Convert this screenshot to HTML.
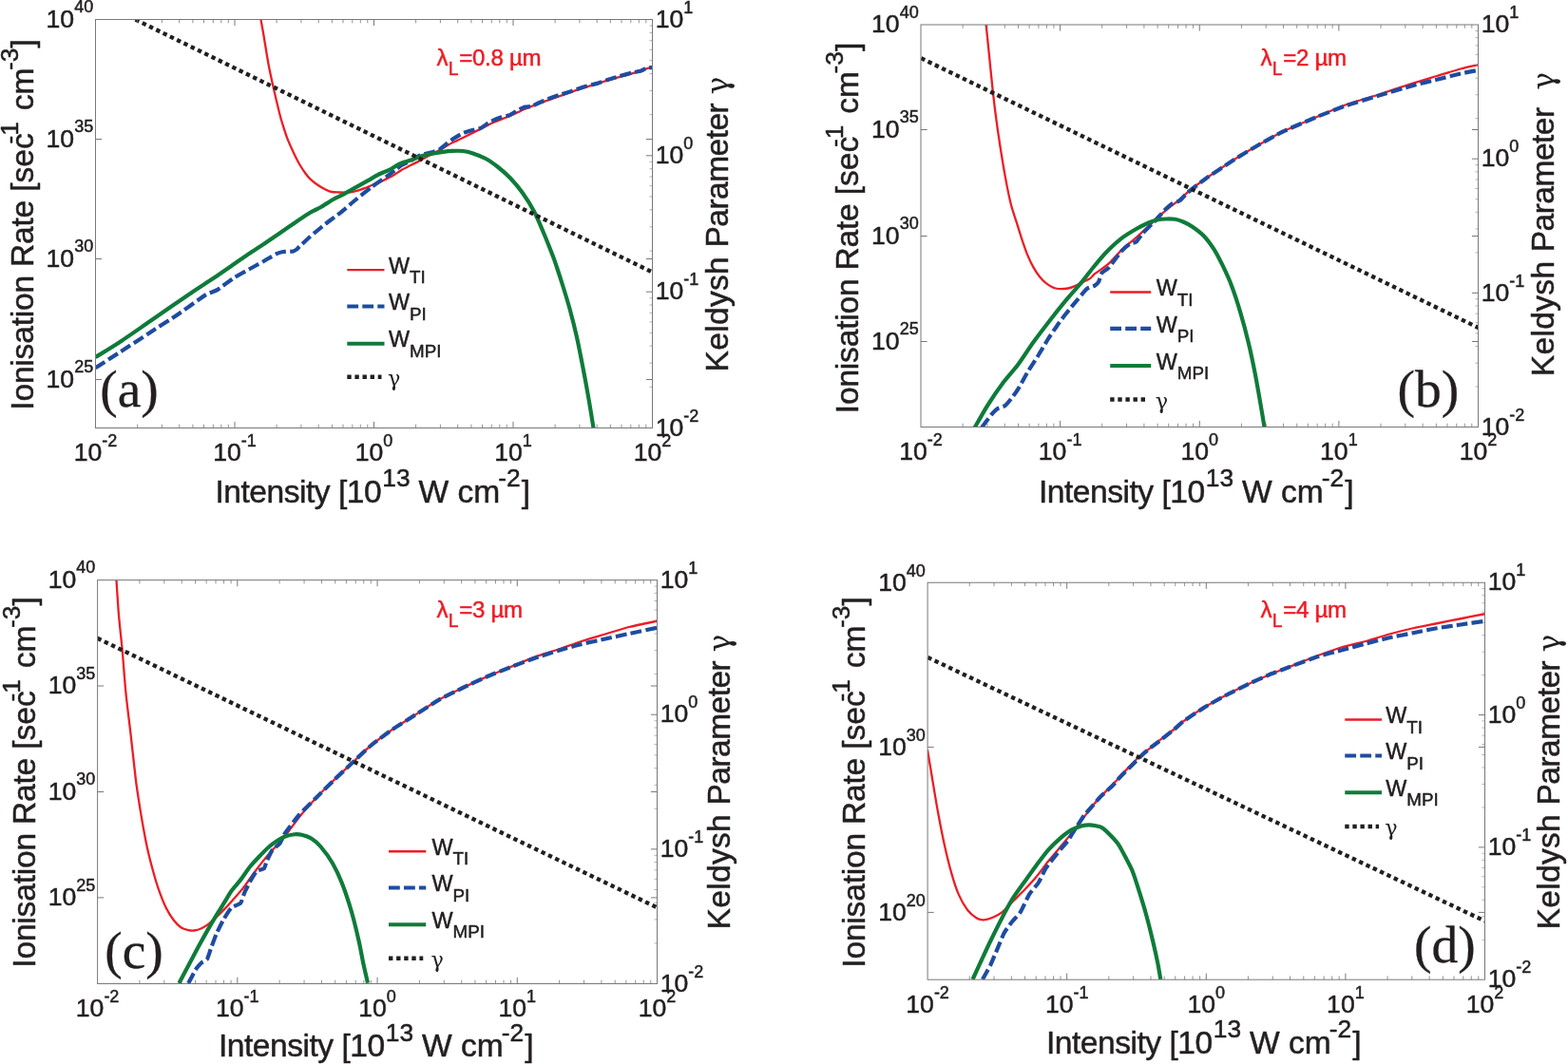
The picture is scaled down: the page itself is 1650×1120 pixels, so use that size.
<!DOCTYPE html>
<html lang="en">
<head>
<meta charset="utf-8">
<title>Ionisation rates and Keldysh parameter</title>
<style>
html,body{margin:0;padding:0;background:#fff;}
body{width:1650px;height:1120px;overflow:hidden;}
svg{display:block;}
text{white-space:pre;}
</style>
</head>
<body>
<svg width="1650" height="1120" viewBox="0 0 1650 1120">
<rect x="0" y="0" width="1650" height="1120" fill="#ffffff"/>
<g id="panel-a">
<clipPath id="clip_a"><rect x="100.5" y="20.5" width="586" height="430"/></clipPath>
<g clip-path="url(#clip_a)" fill="none" stroke-linejoin="round">
<path d="M274.5,20.5 C274.9,22.77 276.43,31.23 277.5,37.5 C278.57,43.77 281.17,60.33 282.5,67.5 C283.83,74.67 285.93,84.25 287.5,91.25 C289.07,98.25 292.97,114.67 294.3,120 C295.63,125.33 296.43,127.77 297.5,131.2 C298.57,134.63 300.81,141.83 302.3,145.7 C303.79,149.57 306.98,156.56 308.7,160.2 C310.42,163.84 313.48,170 315.2,173 C316.92,176 320.11,180.66 321.6,182.7 C323.09,184.74 324.69,186.7 326.4,188.3 C328.11,189.9 332.25,193.21 334.4,194.7 C336.55,196.19 340.57,198.53 342.5,199.5 C344.43,200.47 346.98,201.6 348.9,202 C350.82,202.4 354.54,202.42 356.9,202.5 C359.26,202.58 364.24,202.77 366.6,202.6 C368.96,202.43 372.24,201.83 374.6,201.2 C376.96,200.57 381.73,198.87 384.3,197.9 C386.87,196.93 391.34,194.97 393.9,193.9 C396.46,192.83 400.93,191.07 403.5,189.9 C406.07,188.73 410.63,186.59 413.2,185.1 C415.77,183.61 420.23,180.21 422.8,178.7 C425.37,177.19 429.71,175.2 432.5,173.8 C435.29,172.4 440.7,169.8 443.7,168.2 C446.7,166.6 452.43,163.19 455,161.8 C457.57,160.41 460.87,158.99 463,157.8 C465.13,156.61 468.64,154.19 471,152.9 C473.36,151.61 478.41,149.22 480.7,148.1 C482.99,146.98 485.05,146.06 488.2,144.5 C491.35,142.94 500.02,138.55 504.3,136.4 C508.58,134.25 516.02,130.32 520.3,128.4 C524.58,126.48 532.11,123.83 536.4,122 C540.69,120.17 548.21,116.53 552.5,114.7 C556.79,112.87 564.32,109.9 568.6,108.3 C572.88,106.7 580.32,104.21 584.6,102.7 C588.88,101.19 596.41,98.47 600.7,97 C604.99,95.53 612.52,93.09 616.8,91.7 C621.08,90.31 628.52,87.92 632.8,86.6 C637.08,85.28 644.61,83.04 648.9,81.8 C653.19,80.56 660.72,78.59 665,77.3 C669.28,76.01 678.11,73.01 681,72.1 C683.89,71.19 685.94,70.71 686.7,70.5" stroke="#ed1c24" stroke-width="2.3"/>
<path d="M100.5,387.3 C102.58,385.96 120.8,374.19 125.4,371.2 C130,368.21 150.64,354.69 155.7,351.4 C160.76,348.11 181.04,335.12 186.1,331.7 C191.16,328.28 212.86,312.62 216.4,310.4 C219.94,308.18 226.09,306.62 228.6,305.1 C231.11,303.58 243.72,294 246.5,292.2 C249.28,290.4 259.42,284.93 262,283.5 C264.58,282.07 275.08,276.37 277.5,275 C279.92,273.63 289.29,267.93 291,267.1 C292.71,266.27 296.58,265.21 298,265 C299.42,264.79 306.83,264.8 308,264.6 C309.17,264.4 311.4,263.03 312,262.6 C312.6,262.18 314,260.63 315.2,259.5 C316.4,258.37 324.12,250.98 326.4,249 C328.67,247.02 339.82,237.82 342.5,235.7 C345.18,233.58 355.93,225.74 358.6,223.6 C361.28,221.46 371.93,212.21 374.6,210 C377.28,207.79 388.02,199.11 390.7,197.1 C393.38,195.09 404.66,187.43 406.8,185.9 C408.94,184.37 415.07,179.71 416.4,178.7 C417.73,177.69 421.46,174.61 422.8,173.8 C424.14,172.99 430.89,169.87 432.5,169 C434.11,168.13 440.23,164.13 442.1,163.4 C443.98,162.67 453.26,160.73 455,160.2 C456.74,159.67 461.67,157.81 463,157 C464.33,156.19 469.83,151.41 471,150.5 C472.17,149.59 475.7,146.94 477,146.1 C478.3,145.26 485,141.14 486.6,140.4 C488.2,139.66 494.59,137.67 496.2,137.2 C497.81,136.73 504.29,135.53 505.9,134.8 C507.51,134.07 513.76,129.33 515.5,128.4 C517.24,127.47 525.06,124.2 526.8,123.6 C528.54,123 534.92,121.81 536.4,121.2 C537.88,120.59 543.16,117.02 544.5,116.3 C545.84,115.58 551.3,112.96 552.5,112.6 C553.7,112.24 557.69,112.36 558.9,112 C560.11,111.64 565.52,108.94 567,108.3 C568.48,107.66 574.87,104.97 576.6,104.3 C578.33,103.63 585.79,100.97 587.8,100.3 C589.81,99.62 598.56,96.92 600.7,96.2 C602.84,95.48 611.49,92.33 613.5,91.7 C615.51,91.08 623.46,89.06 624.8,88.7 C626.14,88.34 628.26,87.84 629.6,87.4 C630.94,86.96 639.02,84 640.9,83.4 C642.77,82.8 650.09,80.77 652.1,80.2 C654.11,79.63 663.12,77.07 665,76.6 C666.88,76.12 673.27,74.94 674.6,74.5 C675.93,74.06 679.99,71.57 681,71.3 C682.01,71.03 686.23,71.3 686.7,71.3" stroke="#1e4ca1" stroke-width="4.2" stroke-dasharray="11.8 4.2"/>
<path d="M100.5,376 C103.82,373.93 117.63,365.63 125.4,360.5 C133.17,355.37 148.68,344.47 158.8,337.5 C168.92,330.53 192.61,314.09 201.3,308.2 C209.99,302.31 217.97,297.35 224,293.3 C230.03,289.25 241.42,281.31 246.5,277.8 C251.58,274.29 257.97,269.77 262.1,267 C266.23,264.23 273.21,259.87 277.5,257 C281.79,254.13 289.93,248.5 294.3,245.5 C298.67,242.5 306.02,237.39 310.3,234.5 C314.58,231.61 322.75,226 326.4,223.8 C330.05,221.6 334.49,219.84 337.7,218 C340.91,216.16 347.29,211.81 350.5,210 C353.71,208.19 358.59,206.12 361.8,204.4 C365.01,202.68 371.17,199.03 374.6,197.1 C378.03,195.17 384.29,191.71 387.5,189.9 C390.71,188.09 395.7,184.99 398.7,183.5 C401.7,182.01 407.21,180.1 410,178.7 C412.79,177.3 416.81,174.29 419.6,173 C422.39,171.71 427.69,170.17 430.9,169 C434.11,167.83 440.49,165.16 443.7,164.2 C446.91,163.24 452,162.37 455,161.8 C458,161.23 463.41,160.29 466.2,159.9 C468.99,159.51 473.11,159.02 475.9,158.9 C478.69,158.78 484.29,158.69 487.1,159 C489.91,159.31 493.68,160.12 497,161.25 C500.32,162.38 508.33,165.5 512,167.5 C515.67,169.5 521.17,173.58 524.5,176.25 C527.83,178.92 533.67,184 537,187.5 C540.33,191 546.17,197.83 549.5,202.5 C552.83,207.17 559,216.83 562,222.5 C565,228.17 569.33,238.67 572,245 C574.67,251.33 580.2,265.33 582,270 C583.8,274.67 584.17,276 585.5,280 C586.83,284 590.13,294 592,300 C593.87,306 597.5,317.67 599.5,325 C601.5,332.33 605,346 607,355 C609,364 612.83,383.83 614.5,392.5 C616.17,401.17 618.17,412.27 619.5,420 C620.83,427.73 623.83,446.43 624.5,450.5" stroke="#0f7b3a" stroke-width="4.2"/>
<path d="M142.5,20.6 L686.8,286.7" stroke="#231f20" stroke-width="4.3" stroke-dasharray="4.4 3.7"/>
</g>
<rect x="100.5" y="20.5" width="586" height="430" fill="none" stroke="#787878" stroke-width="1"/>
<path d="M247,450.5 v-6.6 M247,20.5 v6.6 M393.5,450.5 v-6.6 M393.5,20.5 v6.6 M540,450.5 v-6.6 M540,20.5 v6.6 M100.5,146.5 h6.6 M686.5,146.5 h-6.6 M100.5,272.5 h6.6 M686.5,272.5 h-6.6 M100.5,399.5 h6.6 M686.5,399.5 h-6.6 M686.5,163.83 h-6.6 M686.5,307.17 h-6.6" stroke="#787878" stroke-width="1" fill="none"/>
<path d="M144.6,450.5 v-3.8 M144.6,20.5 v3.8 M170.4,450.5 v-3.8 M170.4,20.5 v3.8 M188.7,450.5 v-3.8 M188.7,20.5 v3.8 M202.9,450.5 v-3.8 M202.9,20.5 v3.8 M214.5,450.5 v-3.8 M214.5,20.5 v3.8 M224.31,450.5 v-3.8 M224.31,20.5 v3.8 M232.8,450.5 v-3.8 M232.8,20.5 v3.8 M240.3,450.5 v-3.8 M240.3,20.5 v3.8 M291.1,450.5 v-3.8 M291.1,20.5 v3.8 M316.9,450.5 v-3.8 M316.9,20.5 v3.8 M335.2,450.5 v-3.8 M335.2,20.5 v3.8 M349.4,450.5 v-3.8 M349.4,20.5 v3.8 M361,450.5 v-3.8 M361,20.5 v3.8 M370.81,450.5 v-3.8 M370.81,20.5 v3.8 M379.3,450.5 v-3.8 M379.3,20.5 v3.8 M386.8,450.5 v-3.8 M386.8,20.5 v3.8 M437.6,450.5 v-3.8 M437.6,20.5 v3.8 M463.4,450.5 v-3.8 M463.4,20.5 v3.8 M481.7,450.5 v-3.8 M481.7,20.5 v3.8 M495.9,450.5 v-3.8 M495.9,20.5 v3.8 M507.5,450.5 v-3.8 M507.5,20.5 v3.8 M517.31,450.5 v-3.8 M517.31,20.5 v3.8 M525.8,450.5 v-3.8 M525.8,20.5 v3.8 M533.3,450.5 v-3.8 M533.3,20.5 v3.8 M584.1,450.5 v-3.8 M584.1,20.5 v3.8 M609.9,450.5 v-3.8 M609.9,20.5 v3.8 M628.2,450.5 v-3.8 M628.2,20.5 v3.8 M642.4,450.5 v-3.8 M642.4,20.5 v3.8 M654,450.5 v-3.8 M654,20.5 v3.8 M663.81,450.5 v-3.8 M663.81,20.5 v3.8 M672.3,450.5 v-3.8 M672.3,20.5 v3.8 M679.8,450.5 v-3.8 M679.8,20.5 v3.8" stroke="#787878" stroke-width="0.9" fill="none" opacity="0.9"/>
<path d="M686.5,120.69 h-3 M686.5,95.45 h-3 M686.5,77.54 h-3 M686.5,63.65 h-3 M686.5,52.3 h-3 M686.5,42.7 h-3 M686.5,34.39 h-3 M686.5,27.06 h-3 M686.5,264.02 h-3 M686.5,238.78 h-3 M686.5,220.87 h-3 M686.5,206.98 h-3 M686.5,195.63 h-3 M686.5,186.04 h-3 M686.5,177.72 h-3 M686.5,170.39 h-3 M686.5,407.35 h-3 M686.5,382.11 h-3 M686.5,364.2 h-3 M686.5,350.31 h-3 M686.5,338.96 h-3 M686.5,329.37 h-3 M686.5,321.06 h-3 M686.5,313.73 h-3" stroke="#787878" stroke-width="0.9" fill="none" opacity="0.65"/>
<g fill="none">
<path d="M365.3,284.2 H404.5" stroke="#ed1c24" stroke-width="2.3"/>
<path d="M365.3,322.5 H404.5" stroke="#1e4ca1" stroke-width="4.2" stroke-dasharray="11.8 4.2"/>
<path d="M365.3,361.75 H404.5" stroke="#0f7b3a" stroke-width="4.2"/>
<path d="M365.3,396.75 H401.5" stroke="#231f20" stroke-width="4.3" stroke-dasharray="4.4 3.7"/>
</g>
<g font-family="'Liberation Sans', Arial, Helvetica, sans-serif" fill="#231f20" stroke="#231f20" stroke-width="0.5" stroke-linejoin="round">
<text x="98.2" y="28.9" text-anchor="end" font-size="26.6">10<tspan dx="0" dy="-15.8" font-size="18">40</tspan></text>
<text x="98.2" y="154.9" text-anchor="end" font-size="26.6">10<tspan dx="0" dy="-15.8" font-size="18">35</tspan></text>
<text x="98.2" y="280.9" text-anchor="end" font-size="26.6">10<tspan dx="0" dy="-15.8" font-size="18">30</tspan></text>
<text x="98.2" y="407.9" text-anchor="end" font-size="26.6">10<tspan dx="0" dy="-15.8" font-size="18">25</tspan></text>
<text x="689.7" y="28.7" text-anchor="start" font-size="26.6">10<tspan dx="0" dy="-15" font-size="18">1</tspan></text>
<text x="689.7" y="172.03" text-anchor="start" font-size="26.6">10<tspan dx="0" dy="-15" font-size="18">0</tspan></text>
<text x="689.7" y="315.37" text-anchor="start" font-size="26.6">10<tspan dx="0" dy="-15" font-size="18">-1</tspan></text>
<text x="689.7" y="458.7" text-anchor="start" font-size="26.6">10<tspan dx="0" dy="-15" font-size="18">-2</tspan></text>
<text x="100.5" y="485.4" text-anchor="middle" font-size="26.6">10<tspan dx="0" dy="-15.6" font-size="18">-2</tspan></text>
<text x="247" y="485.4" text-anchor="middle" font-size="26.6">10<tspan dx="0" dy="-15.6" font-size="18">-1</tspan></text>
<text x="393.5" y="485.4" text-anchor="middle" font-size="26.6">10<tspan dx="0" dy="-15.6" font-size="18">0</tspan></text>
<text x="540" y="485.4" text-anchor="middle" font-size="26.6">10<tspan dx="0" dy="-15.6" font-size="18">1</tspan></text>
<text x="686.5" y="485.4" text-anchor="middle" font-size="26.6">10<tspan dx="0" dy="-15.6" font-size="18">2</tspan></text>
<text x="392.3" y="528.5" text-anchor="middle" font-size="33.6"><tspan letter-spacing="-0.5">Intensity [10</tspan><tspan dx="1.3" dy="-16.4" font-size="26.3">13</tspan><tspan dx="-0.5" dy="16.4"> W cm</tspan><tspan dx="-1.9" dy="-16.4" font-size="26.3">-2</tspan><tspan dx="1" dy="16.4">]</tspan></text>
<text transform="translate(35,236.4) rotate(-90)" text-anchor="middle" font-size="33.6"><tspan letter-spacing="-0.22">Ionisation Rate </tspan>[sec<tspan dx="-11.2" dy="-16.4" font-size="26.3">-1</tspan><tspan dx="2.4" dy="16.4"> cm</tspan><tspan dx="-2.3" dy="-16.4" font-size="26.3">-3</tspan><tspan dy="16.4">]</tspan></text>
<text transform="translate(765.5,236) rotate(-90)" text-anchor="middle" font-size="33.6"><tspan letter-spacing="0.3">Keldysh</tspan> <tspan letter-spacing="-0.55">Parameter</tspan> <tspan font-family="'DejaVu Serif', 'Liberation Serif', serif" font-size="31.6" stroke-width="0">γ</tspan></text>
<text x="409" y="287.8" font-size="23.4">W<tspan dy="10.5" font-size="18.8">TI</tspan></text>
<text x="409" y="326.1" font-size="23.4">W<tspan dy="10.5" font-size="18.8">PI</tspan></text>
<text x="409" y="365.35" font-size="23.4">W<tspan dy="10.5" font-size="18.8">MPI</tspan></text>
<text x="408" y="406.05" font-size="22.4" font-family="'DejaVu Serif', 'Liberation Serif', serif" stroke-width="0">γ</text>
<text x="459.5" y="68.75" fill="#ed1c24" stroke="#ed1c24" font-size="24.1" letter-spacing="-0.3">λ<tspan dx="0.5" dy="10.2" font-size="19.3">L</tspan><tspan dx="1" dy="-10.2">=0.8 µm</tspan></text>
<text x="105.2" y="427.5" font-size="55.5" font-family="'Liberation Serif', 'Times New Roman', Times, serif" stroke-width="0.3">(a)</text>
</g>
</g>
<g id="panel-b">
<clipPath id="clip_b"><rect x="969" y="26" width="586.5" height="423.5"/></clipPath>
<g clip-path="url(#clip_b)" fill="none" stroke-linejoin="round">
<path d="M1037.6,25.75 C1038,29.62 1039.73,46.29 1040.6,54.8 C1041.47,63.31 1043.17,80.93 1044.1,89.6 C1045.03,98.27 1046.52,111.44 1047.6,119.8 C1048.68,128.16 1050.81,143.33 1052.2,152.3 C1053.59,161.27 1056.45,178.74 1058,187.1 C1059.55,195.46 1062.25,208.8 1063.8,215 C1065.35,221.2 1068.05,228.65 1069.6,233.6 C1071.15,238.55 1073.85,247.46 1075.4,252.1 C1076.95,256.74 1079.57,264.47 1081.2,268.4 C1082.83,272.33 1085.87,278.52 1087.6,281.6 C1089.33,284.68 1092.44,289.3 1094.2,291.5 C1095.96,293.7 1098.6,296.5 1100.8,298.1 C1103,299.7 1107.61,302.78 1110.7,303.5 C1113.79,304.22 1121.13,303.89 1124,303.5 C1126.87,303.11 1130,301.55 1132.2,300.6 C1134.4,299.65 1138.51,297.4 1140.5,296.4 C1142.49,295.4 1145.57,294.19 1147.1,293.1 C1148.63,292.01 1150.24,289.63 1152,288.2 C1153.76,286.77 1158.1,284.05 1160.3,282.4 C1162.5,280.75 1165.93,278.28 1168.5,275.8 C1171.07,273.32 1175.99,267.23 1179.6,263.8 C1183.21,260.37 1191.65,253.59 1195.6,250.1 C1199.55,246.61 1205.25,241.24 1209.2,237.6 C1213.15,233.96 1220.95,226.45 1225.2,222.8 C1229.45,219.15 1237.46,213.24 1241.1,210.2 C1244.74,207.16 1248.71,203.03 1252.5,200 C1256.29,196.97 1263.23,191.83 1269.5,187.5 C1275.77,183.17 1292.17,172.17 1299.5,167.5 C1306.83,162.83 1317.83,156.33 1324.5,152.5 C1331.17,148.67 1341.17,142.75 1349.5,138.75 C1357.83,134.75 1378,126.33 1387,122.5 C1396,118.67 1408.67,113 1417,110 C1425.33,107 1440.17,103 1449.5,100 C1458.83,97 1478.67,90.17 1487,87.5 C1495.33,84.83 1505.33,82 1512,80 C1518.67,78 1531.17,74.07 1537,72.5 C1542.83,70.93 1553.25,68.82 1555.75,68.25" stroke="#ed1c24" stroke-width="2.3"/>
<path d="M1033.1,450 C1033.92,448.9 1041.62,438.45 1043,436.8 C1044.38,435.15 1048.36,431.02 1049.6,430.2 C1050.84,429.38 1056.52,428 1057.9,426.9 C1059.28,425.8 1064.96,418.65 1066.2,417 C1067.44,415.35 1071.57,409.17 1072.8,407.1 C1074.03,405.03 1079.35,394.96 1081,392.2 C1082.65,389.44 1090.81,376.89 1092.6,374 C1094.39,371.11 1100.85,360.11 1102.5,357.5 C1104.15,354.89 1110.75,345.03 1112.4,342.7 C1114.05,340.37 1120.51,331.77 1122.3,329.5 C1124.09,327.23 1132.11,317.53 1133.9,315.4 C1135.69,313.27 1142.29,305.13 1143.8,303.9 C1145.31,302.67 1150.97,301.23 1152,300.6 C1153.03,299.98 1155.58,297.51 1156.2,296.4 C1156.83,295.29 1158.61,288.53 1159.5,287.3 C1160.39,286.07 1165.23,283.47 1166.9,281.6 C1168.58,279.73 1177.78,266.96 1179.6,264.9 C1181.42,262.84 1187.37,257.75 1188.7,256.9 C1190.03,256.05 1194.46,255.64 1195.6,254.7 C1196.74,253.76 1200.88,247.31 1202.4,245.6 C1203.92,243.89 1211.9,236.2 1213.8,234.2 C1215.7,232.2 1223.49,223.31 1225.2,221.6 C1226.91,219.89 1232.97,214.55 1234.3,213.7 C1235.62,212.85 1239.77,212.35 1241.1,211.4 C1242.42,210.45 1247.83,204.29 1250.2,202.3 C1252.57,200.31 1265.39,190.4 1269.5,187.5 C1273.61,184.6 1294.92,170.42 1299.5,167.5 C1304.08,164.58 1320.33,154.9 1324.5,152.5 C1328.67,150.1 1344.29,141.25 1349.5,138.75 C1354.71,136.25 1381.38,124.81 1387,122.5 C1392.62,120.19 1411.79,112.79 1417,111 C1422.21,109.21 1443.67,102.75 1449.5,101 C1455.33,99.25 1481.79,91.44 1487,90 C1492.21,88.56 1507.83,84.79 1512,83.75 C1516.17,82.71 1533.35,78.33 1537,77.5 C1540.65,76.67 1554.19,74.06 1555.75,73.75" stroke="#1e4ca1" stroke-width="4.2" stroke-dasharray="11.8 4.2"/>
<path d="M1025.7,450 C1027.57,446.8 1035.63,432.39 1039.7,426 C1043.77,419.61 1052.01,407.7 1056.2,402.1 C1060.39,396.5 1066.91,389.61 1071.1,384 C1075.29,378.39 1082.97,366.4 1087.6,360 C1092.23,353.6 1101.17,341.95 1105.8,336 C1110.43,330.05 1117.9,320.68 1122.3,315.4 C1126.7,310.12 1135.11,300.85 1138.8,296.4 C1142.49,291.95 1146.68,286.05 1150,282 C1153.32,277.95 1159.75,270.09 1163.7,266 C1167.65,261.91 1175.35,254.63 1179.6,251.3 C1183.85,247.97 1191.65,243.28 1195.6,241 C1199.55,238.72 1206.17,235.51 1209.2,234.2 C1212.23,232.89 1215.87,231.69 1218.3,231.2 C1220.73,230.71 1224.96,230.55 1227.4,230.5 C1229.84,230.45 1234.16,230.37 1236.6,230.8 C1239.04,231.23 1243.27,232.65 1245.7,233.7 C1248.13,234.75 1252.07,236.82 1254.8,238.7 C1257.53,240.58 1263.16,244.61 1266.2,247.8 C1269.24,250.99 1274.87,258.35 1277.6,262.6 C1280.33,266.85 1284.27,274.69 1286.7,279.7 C1289.13,284.71 1293.37,293.81 1295.8,300.2 C1298.23,306.59 1302.47,319.4 1304.9,327.6 C1307.33,335.8 1311.88,352.9 1314,361.7 C1316.12,370.5 1319.13,385.09 1320.8,393.6 C1322.47,402.11 1325.19,417.98 1326.5,425.5 C1327.81,433.02 1330.05,446.73 1330.6,450" stroke="#0f7b3a" stroke-width="4.2"/>
<path d="M969.25,61.25 L1555.75,345" stroke="#231f20" stroke-width="4.3" stroke-dasharray="4.4 3.7"/>
</g>
<rect x="969" y="26" width="586.5" height="423.5" fill="none" stroke="#787878" stroke-width="1"/>
<path d="M1115.62,449.5 v-6.6 M1115.62,26 v6.6 M1262.25,449.5 v-6.6 M1262.25,26 v6.6 M1408.88,449.5 v-6.6 M1408.88,26 v6.6 M969,136.5 h6.6 M1555.5,136.5 h-6.6 M969,248.5 h6.6 M1555.5,248.5 h-6.6 M969,359.5 h6.6 M1555.5,359.5 h-6.6 M1555.5,167.17 h-6.6 M1555.5,308.33 h-6.6" stroke="#787878" stroke-width="1" fill="none"/>
<path d="M1013.14,449.5 v-3.8 M1013.14,26 v3.8 M1038.96,449.5 v-3.8 M1038.96,26 v3.8 M1057.28,449.5 v-3.8 M1057.28,26 v3.8 M1071.49,449.5 v-3.8 M1071.49,26 v3.8 M1083.1,449.5 v-3.8 M1083.1,26 v3.8 M1092.91,449.5 v-3.8 M1092.91,26 v3.8 M1101.42,449.5 v-3.8 M1101.42,26 v3.8 M1108.92,449.5 v-3.8 M1108.92,26 v3.8 M1159.76,449.5 v-3.8 M1159.76,26 v3.8 M1185.58,449.5 v-3.8 M1185.58,26 v3.8 M1203.9,449.5 v-3.8 M1203.9,26 v3.8 M1218.11,449.5 v-3.8 M1218.11,26 v3.8 M1229.72,449.5 v-3.8 M1229.72,26 v3.8 M1239.54,449.5 v-3.8 M1239.54,26 v3.8 M1248.04,449.5 v-3.8 M1248.04,26 v3.8 M1255.54,449.5 v-3.8 M1255.54,26 v3.8 M1306.39,449.5 v-3.8 M1306.39,26 v3.8 M1332.21,449.5 v-3.8 M1332.21,26 v3.8 M1350.53,449.5 v-3.8 M1350.53,26 v3.8 M1364.74,449.5 v-3.8 M1364.74,26 v3.8 M1376.35,449.5 v-3.8 M1376.35,26 v3.8 M1386.16,449.5 v-3.8 M1386.16,26 v3.8 M1394.67,449.5 v-3.8 M1394.67,26 v3.8 M1402.17,449.5 v-3.8 M1402.17,26 v3.8 M1453.01,449.5 v-3.8 M1453.01,26 v3.8 M1478.83,449.5 v-3.8 M1478.83,26 v3.8 M1497.15,449.5 v-3.8 M1497.15,26 v3.8 M1511.36,449.5 v-3.8 M1511.36,26 v3.8 M1522.97,449.5 v-3.8 M1522.97,26 v3.8 M1532.79,449.5 v-3.8 M1532.79,26 v3.8 M1541.29,449.5 v-3.8 M1541.29,26 v3.8 M1548.79,449.5 v-3.8 M1548.79,26 v3.8" stroke="#787878" stroke-width="0.9" fill="none" opacity="0.9"/>
<path d="M1555.5,124.67 h-3 M1555.5,99.81 h-3 M1555.5,82.18 h-3 M1555.5,68.5 h-3 M1555.5,57.32 h-3 M1555.5,47.87 h-3 M1555.5,39.68 h-3 M1555.5,32.46 h-3 M1555.5,265.84 h-3 M1555.5,240.98 h-3 M1555.5,223.34 h-3 M1555.5,209.66 h-3 M1555.5,198.48 h-3 M1555.5,189.03 h-3 M1555.5,180.85 h-3 M1555.5,173.63 h-3 M1555.5,407 h-3 M1555.5,382.15 h-3 M1555.5,364.51 h-3 M1555.5,350.83 h-3 M1555.5,339.65 h-3 M1555.5,330.2 h-3 M1555.5,322.01 h-3 M1555.5,314.79 h-3" stroke="#787878" stroke-width="0.9" fill="none" opacity="0.65"/>
<g fill="none">
<path d="M1168.2,307.5 H1211.2" stroke="#ed1c24" stroke-width="2.3"/>
<path d="M1168.2,345.9 H1211.2" stroke="#1e4ca1" stroke-width="4.2" stroke-dasharray="11.8 4.2"/>
<path d="M1168.2,385 H1211.2" stroke="#0f7b3a" stroke-width="4.2"/>
<path d="M1168.2,420.5 H1208.2" stroke="#231f20" stroke-width="4.3" stroke-dasharray="4.4 3.7"/>
</g>
<g font-family="'Liberation Sans', Arial, Helvetica, sans-serif" fill="#231f20" stroke="#231f20" stroke-width="0.5" stroke-linejoin="round">
<text x="966.7" y="34.4" text-anchor="end" font-size="26.6">10<tspan dx="0" dy="-15.8" font-size="18">40</tspan></text>
<text x="966.7" y="144.9" text-anchor="end" font-size="26.6">10<tspan dx="0" dy="-15.8" font-size="18">35</tspan></text>
<text x="966.7" y="256.9" text-anchor="end" font-size="26.6">10<tspan dx="0" dy="-15.8" font-size="18">30</tspan></text>
<text x="966.7" y="367.9" text-anchor="end" font-size="26.6">10<tspan dx="0" dy="-15.8" font-size="18">25</tspan></text>
<text x="1558.7" y="34.2" text-anchor="start" font-size="26.6">10<tspan dx="0" dy="-15" font-size="18">1</tspan></text>
<text x="1558.7" y="175.37" text-anchor="start" font-size="26.6">10<tspan dx="0" dy="-15" font-size="18">0</tspan></text>
<text x="1558.7" y="316.53" text-anchor="start" font-size="26.6">10<tspan dx="0" dy="-15" font-size="18">-1</tspan></text>
<text x="1558.7" y="457.7" text-anchor="start" font-size="26.6">10<tspan dx="0" dy="-15" font-size="18">-2</tspan></text>
<text x="969" y="484.4" text-anchor="middle" font-size="26.6">10<tspan dx="0" dy="-15.6" font-size="18">-2</tspan></text>
<text x="1115.62" y="484.4" text-anchor="middle" font-size="26.6">10<tspan dx="0" dy="-15.6" font-size="18">-1</tspan></text>
<text x="1262.25" y="484.4" text-anchor="middle" font-size="26.6">10<tspan dx="0" dy="-15.6" font-size="18">0</tspan></text>
<text x="1408.88" y="484.4" text-anchor="middle" font-size="26.6">10<tspan dx="0" dy="-15.6" font-size="18">1</tspan></text>
<text x="1555.5" y="484.4" text-anchor="middle" font-size="26.6">10<tspan dx="0" dy="-15.6" font-size="18">2</tspan></text>
<text x="1258.8" y="528.5" text-anchor="middle" font-size="33.6"><tspan letter-spacing="-0.5">Intensity [10</tspan><tspan dx="1.3" dy="-16.4" font-size="26.3">13</tspan><tspan dx="-0.5" dy="16.4"> W cm</tspan><tspan dx="-1.9" dy="-16.4" font-size="26.3">-2</tspan><tspan dx="1" dy="16.4">]</tspan></text>
<text transform="translate(903,239.9) rotate(-90)" text-anchor="middle" font-size="33.6"><tspan letter-spacing="-0.22">Ionisation Rate </tspan>[sec<tspan dx="-11.2" dy="-16.4" font-size="26.3">-1</tspan><tspan dx="2.4" dy="16.4"> cm</tspan><tspan dx="-2.3" dy="-16.4" font-size="26.3">-3</tspan><tspan dy="16.4">]</tspan></text>
<text transform="translate(1635,236) rotate(-90)" text-anchor="middle" font-size="33.6"><tspan letter-spacing="0.3">Keldysh</tspan> <tspan letter-spacing="-0.55">Parameter</tspan>  <tspan font-family="'DejaVu Serif', 'Liberation Serif', serif" font-size="31.6" stroke-width="0">γ</tspan></text>
<text x="1216.7" y="311.1" font-size="23.4">W<tspan dy="10.5" font-size="18.8">TI</tspan></text>
<text x="1216.7" y="349.5" font-size="23.4">W<tspan dy="10.5" font-size="18.8">PI</tspan></text>
<text x="1216.7" y="388.6" font-size="23.4">W<tspan dy="10.5" font-size="18.8">MPI</tspan></text>
<text x="1215.7" y="429.8" font-size="22.4" font-family="'DejaVu Serif', 'Liberation Serif', serif" stroke-width="0">γ</text>
<text x="1326.5" y="68.75" fill="#ed1c24" stroke="#ed1c24" font-size="24.1" letter-spacing="-0.3">λ<tspan dx="0.5" dy="10.2" font-size="19.3">L</tspan><tspan dx="1" dy="-10.2">=2 µm</tspan></text>
<text x="1470.5" y="427.5" font-size="55.5" font-family="'Liberation Serif', 'Times New Roman', Times, serif" stroke-width="0.3">(b)</text>
</g>
</g>
<g id="panel-c">
<clipPath id="clip_c"><rect x="102.6" y="610.6" width="588.9" height="424.9"/></clipPath>
<g clip-path="url(#clip_c)" fill="none" stroke-linejoin="round">
<path d="M122.5,610.75 C122.83,615.65 124.17,637.6 125,647.5 C125.83,657.4 127.75,674 128.75,685 C129.75,696 131.33,718.33 132.5,730 C133.67,741.67 136.13,760.5 137.5,772.5 C138.87,784.5 141.64,810.52 142.8,820 C143.96,829.48 145.23,837.31 146.2,843.6 C147.17,849.89 148.93,860.65 150.1,867.2 C151.27,873.75 153.56,886.15 155,892.7 C156.44,899.25 159.33,910.54 160.9,916.3 C162.47,922.06 164.96,930.66 166.8,935.9 C168.64,941.14 172.61,951.28 174.7,955.6 C176.79,959.92 180.41,965.55 182.5,968.3 C184.59,971.05 188.31,974.76 190.4,976.2 C192.49,977.64 196.37,978.66 198.2,979.1 C200.03,979.54 202.26,979.75 204.1,979.5 C205.94,979.25 209.91,978.16 212,977.2 C214.09,976.24 217.71,973.87 219.8,972.3 C221.89,970.73 225.34,967.63 227.7,965.4 C230.06,963.17 234.89,958.35 237.5,955.6 C240.11,952.85 244.67,947.81 247.3,944.8 C249.93,941.79 254.57,936.41 257.2,933 C259.83,929.59 264.39,922.75 267,919.2 C269.61,915.65 274.19,909.67 276.8,906.4 C279.41,903.13 283.97,897.58 286.6,894.7 C289.23,891.82 292.71,889.43 296.5,884.8 C300.29,880.17 310.2,865.97 315,860 C319.8,854.03 327.83,845 332.5,840 C337.17,835 344.67,827.67 350,822.5 C355.33,817.33 367.17,806.25 372.5,801.25 C377.83,796.25 384.73,789.37 390,785 C395.27,780.63 405.73,772.83 412,768.5 C418.27,764.17 430.33,756.75 437,752.5 C443.67,748.25 455.33,740.4 462,736.6 C468.67,732.8 480.33,727.21 487,724 C493.67,720.79 505.33,715.41 512,712.5 C518.67,709.59 530.33,704.96 537,702.2 C543.67,699.44 555.33,694.26 562,691.8 C568.67,689.34 580.33,685.99 587,683.75 C593.67,681.51 605.33,677.17 612,675 C618.67,672.83 630.33,669.5 637,667.5 C643.67,665.5 654.73,661.83 662,660 C669.27,658.17 687.57,654.58 691.5,653.75" stroke="#ed1c24" stroke-width="2.3"/>
<path d="M198.2,1035.1 C198.86,1033.88 204.95,1022.2 206.1,1020.4 C207.25,1018.6 211.02,1014.4 212,1013.5 C212.98,1012.6 217.08,1010.83 217.9,1009.6 C218.72,1008.38 220.98,1001.01 221.8,998.8 C222.62,996.59 226.55,985.73 227.7,983.1 C228.85,980.48 234.29,969.59 235.6,967.3 C236.91,965.01 241.93,956.99 243.4,955.6 C244.87,954.21 252.05,951.92 253.2,950.6 C254.35,949.28 256.38,941.68 257.2,939.8 C258.02,937.92 262.04,929.88 263.1,928 C264.16,926.12 268.67,918.34 269.9,917.2 C271.12,916.06 276.9,915.2 277.8,914.3 C278.7,913.4 279.97,908.03 280.7,906.4 C281.43,904.77 285.45,896.25 286.6,894.7 C287.75,893.15 293.38,889.27 294.5,887.8 C295.62,886.32 298.29,879.52 300,877 C301.71,874.48 312.29,860.58 315,857.5 C317.71,854.42 329.58,842.92 332.5,840 C335.42,837.08 346.67,825.73 350,822.5 C353.33,819.27 369.17,804.38 372.5,801.25 C375.83,798.12 386.71,787.73 390,785 C393.29,782.27 408.08,771.21 412,768.5 C415.92,765.79 432.83,755.16 437,752.5 C441.17,749.84 457.83,738.98 462,736.6 C466.17,734.23 482.83,726.01 487,724 C491.17,721.99 507.83,714.3 512,712.5 C516.17,710.7 532.83,704.02 537,702.4 C541.17,700.77 557.83,694.45 562,693 C566.17,691.55 582.83,686.25 587,685 C591.17,683.75 607.83,679.04 612,678 C616.17,676.96 632.83,673.42 637,672.5 C641.17,671.58 657.46,667.98 662,667 C666.54,666.02 689.04,661.27 691.5,660.75" stroke="#1e4ca1" stroke-width="4.2" stroke-dasharray="11.8 4.2"/>
<path d="M188.4,1035.1 C189.71,1032.62 195.57,1021.47 198.2,1016.5 C200.83,1011.53 205.47,1002.65 208.1,997.8 C210.73,992.95 215.29,984.69 217.9,980.1 C220.51,975.51 225.09,967.72 227.7,963.4 C230.31,959.08 235.41,951.1 237.5,947.7 C239.59,944.3 241.31,940.78 243.4,937.9 C245.49,935.02 250.57,929.51 253.2,926.1 C255.83,922.69 260.47,915.58 263.1,912.3 C265.73,909.02 270.29,904.25 272.9,901.5 C275.51,898.75 280.34,893.79 282.7,891.7 C285.06,889.61 288.29,887.29 290.6,885.8 C292.91,884.31 297.41,881.51 300,880.5 C302.59,879.49 307.67,878.48 310,878.25 C312.33,878.02 315.17,878.18 317.5,878.75 C319.83,879.32 324.83,880.83 327.5,882.5 C330.17,884.17 334.5,887.75 337.5,891.25 C340.5,894.75 347,903.58 350,908.75 C353,913.92 357.33,923.17 360,930 C362.67,936.83 367.67,952 370,960 C372.33,968 375.83,982.67 377.5,990 C379.17,997.33 381.23,1009.03 382.5,1015 C383.77,1020.97 386.4,1032.12 387,1034.75" stroke="#0f7b3a" stroke-width="4.2"/>
<path d="M102.5,671.8 L691.5,955.3" stroke="#231f20" stroke-width="4.3" stroke-dasharray="4.4 3.7"/>
</g>
<rect x="102.6" y="610.6" width="588.9" height="424.9" fill="none" stroke="#787878" stroke-width="1"/>
<path d="M249.82,1035.5 v-6.6 M249.82,610.6 v6.6 M397.05,1035.5 v-6.6 M397.05,610.6 v6.6 M544.27,1035.5 v-6.6 M544.27,610.6 v6.6 M102.6,722 h6.6 M691.5,722 h-6.6 M102.6,833.5 h6.6 M691.5,833.5 h-6.6 M102.6,944.9 h6.6 M691.5,944.9 h-6.6 M691.5,752.23 h-6.6 M691.5,893.87 h-6.6" stroke="#787878" stroke-width="1" fill="none"/>
<path d="M146.92,1035.5 v-3.8 M146.92,610.6 v3.8 M172.84,1035.5 v-3.8 M172.84,610.6 v3.8 M191.24,1035.5 v-3.8 M191.24,610.6 v3.8 M205.51,1035.5 v-3.8 M205.51,610.6 v3.8 M217.16,1035.5 v-3.8 M217.16,610.6 v3.8 M227.02,1035.5 v-3.8 M227.02,610.6 v3.8 M235.56,1035.5 v-3.8 M235.56,610.6 v3.8 M243.09,1035.5 v-3.8 M243.09,610.6 v3.8 M294.14,1035.5 v-3.8 M294.14,610.6 v3.8 M320.07,1035.5 v-3.8 M320.07,610.6 v3.8 M338.46,1035.5 v-3.8 M338.46,610.6 v3.8 M352.73,1035.5 v-3.8 M352.73,610.6 v3.8 M364.39,1035.5 v-3.8 M364.39,610.6 v3.8 M374.24,1035.5 v-3.8 M374.24,610.6 v3.8 M382.78,1035.5 v-3.8 M382.78,610.6 v3.8 M390.31,1035.5 v-3.8 M390.31,610.6 v3.8 M441.37,1035.5 v-3.8 M441.37,610.6 v3.8 M467.29,1035.5 v-3.8 M467.29,610.6 v3.8 M485.69,1035.5 v-3.8 M485.69,610.6 v3.8 M499.96,1035.5 v-3.8 M499.96,610.6 v3.8 M511.61,1035.5 v-3.8 M511.61,610.6 v3.8 M521.47,1035.5 v-3.8 M521.47,610.6 v3.8 M530.01,1035.5 v-3.8 M530.01,610.6 v3.8 M537.54,1035.5 v-3.8 M537.54,610.6 v3.8 M588.59,1035.5 v-3.8 M588.59,610.6 v3.8 M614.52,1035.5 v-3.8 M614.52,610.6 v3.8 M632.91,1035.5 v-3.8 M632.91,610.6 v3.8 M647.18,1035.5 v-3.8 M647.18,610.6 v3.8 M658.84,1035.5 v-3.8 M658.84,610.6 v3.8 M668.69,1035.5 v-3.8 M668.69,610.6 v3.8 M677.23,1035.5 v-3.8 M677.23,610.6 v3.8 M684.76,1035.5 v-3.8 M684.76,610.6 v3.8" stroke="#787878" stroke-width="0.9" fill="none" opacity="0.9"/>
<path d="M691.5,709.6 h-3 M691.5,684.66 h-3 M691.5,666.96 h-3 M691.5,653.24 h-3 M691.5,642.02 h-3 M691.5,632.54 h-3 M691.5,624.33 h-3 M691.5,617.08 h-3 M691.5,851.23 h-3 M691.5,826.29 h-3 M691.5,808.59 h-3 M691.5,794.87 h-3 M691.5,783.65 h-3 M691.5,774.17 h-3 M691.5,765.96 h-3 M691.5,758.71 h-3 M691.5,992.86 h-3 M691.5,967.92 h-3 M691.5,950.23 h-3 M691.5,936.5 h-3 M691.5,925.29 h-3 M691.5,915.81 h-3 M691.5,907.59 h-3 M691.5,900.35 h-3" stroke="#787878" stroke-width="0.9" fill="none" opacity="0.65"/>
<g fill="none">
<path d="M409,896.25 H448.25" stroke="#ed1c24" stroke-width="2.3"/>
<path d="M409,934.5 H448.25" stroke="#1e4ca1" stroke-width="4.2" stroke-dasharray="11.8 4.2"/>
<path d="M409,973.25 H448.25" stroke="#0f7b3a" stroke-width="4.2"/>
<path d="M409,1008.75 H445.25" stroke="#231f20" stroke-width="4.3" stroke-dasharray="4.4 3.7"/>
</g>
<g font-family="'Liberation Sans', Arial, Helvetica, sans-serif" fill="#231f20" stroke="#231f20" stroke-width="0.5" stroke-linejoin="round">
<text x="100.3" y="619" text-anchor="end" font-size="26.6">10<tspan dx="0" dy="-15.8" font-size="18">40</tspan></text>
<text x="100.3" y="730.4" text-anchor="end" font-size="26.6">10<tspan dx="0" dy="-15.8" font-size="18">35</tspan></text>
<text x="100.3" y="841.9" text-anchor="end" font-size="26.6">10<tspan dx="0" dy="-15.8" font-size="18">30</tspan></text>
<text x="100.3" y="953.3" text-anchor="end" font-size="26.6">10<tspan dx="0" dy="-15.8" font-size="18">25</tspan></text>
<text x="694.7" y="618.8" text-anchor="start" font-size="26.6">10<tspan dx="0" dy="-15" font-size="18">1</tspan></text>
<text x="694.7" y="760.43" text-anchor="start" font-size="26.6">10<tspan dx="0" dy="-15" font-size="18">0</tspan></text>
<text x="694.7" y="902.07" text-anchor="start" font-size="26.6">10<tspan dx="0" dy="-15" font-size="18">-1</tspan></text>
<text x="694.7" y="1043.7" text-anchor="start" font-size="26.6">10<tspan dx="0" dy="-15" font-size="18">-2</tspan></text>
<text x="102.6" y="1070.4" text-anchor="middle" font-size="26.6">10<tspan dx="0" dy="-15.6" font-size="18">-2</tspan></text>
<text x="249.82" y="1070.4" text-anchor="middle" font-size="26.6">10<tspan dx="0" dy="-15.6" font-size="18">-1</tspan></text>
<text x="397.05" y="1070.4" text-anchor="middle" font-size="26.6">10<tspan dx="0" dy="-15.6" font-size="18">0</tspan></text>
<text x="544.27" y="1070.4" text-anchor="middle" font-size="26.6">10<tspan dx="0" dy="-15.6" font-size="18">1</tspan></text>
<text x="691.5" y="1070.4" text-anchor="middle" font-size="26.6">10<tspan dx="0" dy="-15.6" font-size="18">2</tspan></text>
<text x="395.8" y="1112.2" text-anchor="middle" font-size="33.6"><tspan letter-spacing="-0.5">Intensity [10</tspan><tspan dx="1.3" dy="-16.4" font-size="26.3">13</tspan><tspan dx="-0.5" dy="16.4"> W cm</tspan><tspan dx="-1.9" dy="-16.4" font-size="26.3">-2</tspan><tspan dx="1" dy="16.4">]</tspan></text>
<text transform="translate(37,823.4) rotate(-90)" text-anchor="middle" font-size="33.6"><tspan letter-spacing="-0.22">Ionisation Rate </tspan>[sec<tspan dx="-11.2" dy="-16.4" font-size="26.3">-1</tspan><tspan dx="2.4" dy="16.4"> cm</tspan><tspan dx="-2.3" dy="-16.4" font-size="26.3">-3</tspan><tspan dy="16.4">]</tspan></text>
<text transform="translate(768,823) rotate(-90)" text-anchor="middle" font-size="33.6"><tspan letter-spacing="0.3">Keldysh</tspan> <tspan letter-spacing="-0.55">Parameter</tspan> <tspan font-family="'DejaVu Serif', 'Liberation Serif', serif" font-size="31.6" stroke-width="0">γ</tspan></text>
<text x="454.5" y="899.85" font-size="23.4">W<tspan dy="10.5" font-size="18.8">TI</tspan></text>
<text x="454.5" y="938.1" font-size="23.4">W<tspan dy="10.5" font-size="18.8">PI</tspan></text>
<text x="454.5" y="976.85" font-size="23.4">W<tspan dy="10.5" font-size="18.8">MPI</tspan></text>
<text x="453.5" y="1018.05" font-size="22.4" font-family="'DejaVu Serif', 'Liberation Serif', serif" stroke-width="0">γ</text>
<text x="459.5" y="650" fill="#ed1c24" stroke="#ed1c24" font-size="24.1" letter-spacing="-0.3">λ<tspan dx="0.5" dy="10.2" font-size="19.3">L</tspan><tspan dx="1" dy="-10.2">=3 µm</tspan></text>
<text x="110.2" y="1018.9" font-size="55.5" font-family="'Liberation Serif', 'Times New Roman', Times, serif" stroke-width="0.3">(c)</text>
</g>
</g>
<g id="panel-d">
<clipPath id="clip_d"><rect x="976.1" y="613.25" width="586.4" height="417.95"/></clipPath>
<g clip-path="url(#clip_d)" fill="none" stroke-linejoin="round">
<path d="M976,789.3 C976.64,793.15 979.35,809.53 980.8,818.2 C982.25,826.87 985.13,844.66 986.9,854.3 C988.67,863.94 992.18,881.82 994.1,890.5 C996.02,899.18 999.37,912.65 1001.3,919.4 C1003.23,926.15 1006.35,935.95 1008.6,941.1 C1010.85,946.25 1015.64,954.63 1018.2,958 C1020.76,961.37 1025.55,965.03 1027.8,966.4 C1030.05,967.77 1032.85,968.39 1035.1,968.3 C1037.35,968.21 1042.14,966.75 1044.7,965.7 C1047.26,964.65 1051.41,962.72 1054.3,960.4 C1057.19,958.08 1063.19,951.51 1066.4,948.3 C1069.61,945.09 1075.19,939.67 1078.4,936.3 C1081.61,932.93 1087.29,926.87 1090.5,923 C1093.71,919.13 1099.29,911.31 1102.5,907.3 C1105.71,903.29 1111.39,896.75 1114.6,892.9 C1117.81,889.05 1123.39,882.41 1126.6,878.4 C1129.81,874.39 1135.49,866.97 1138.7,862.8 C1141.91,858.63 1147.49,850.95 1150.7,847.1 C1153.91,843.25 1159.59,837.27 1162.8,833.9 C1166.01,830.53 1171.59,825.17 1174.8,821.8 C1178.01,818.43 1183.69,811.97 1186.9,808.6 C1190.11,805.23 1195.69,799.39 1198.9,796.5 C1202.11,793.61 1207.79,789.47 1211,786.9 C1214.21,784.33 1219.53,779.92 1223,777.2 C1226.47,774.48 1234.08,768.86 1237,766.5 C1239.92,764.14 1240.86,762.42 1244.9,759.5 C1248.94,756.58 1261.33,748.27 1267.3,744.6 C1273.27,740.93 1283.73,735.17 1289.7,732 C1295.67,728.83 1306.11,723.64 1312.1,720.8 C1318.09,717.96 1328.61,713.23 1334.6,710.7 C1340.59,708.17 1350.01,704.56 1357,701.8 C1363.99,699.04 1379.67,692.74 1387,690 C1394.33,687.26 1405.33,683.25 1412,681.25 C1418.67,679.25 1430.33,676.83 1437,675 C1443.67,673.17 1455.33,669.33 1462,667.5 C1468.67,665.67 1480.33,662.75 1487,661.25 C1493.67,659.75 1505.33,657.58 1512,656.25 C1518.67,654.92 1530.27,652.58 1537,651.25 C1543.73,649.92 1559.1,646.92 1562.5,646.25" stroke="#ed1c24" stroke-width="2.3"/>
<path d="M1033.9,1031 C1034.6,1029.73 1041,1018.47 1042.3,1015.8 C1043.6,1013.12 1048.3,1001.72 1049.5,998.9 C1050.7,996.08 1055.39,984.41 1056.7,982 C1058.01,979.59 1063.79,971.8 1065.2,970 C1066.61,968.2 1072.09,962.81 1073.6,960.4 C1075.11,957.99 1081.69,943.72 1083.3,941.1 C1084.91,938.48 1091.5,931.21 1092.9,929 C1094.3,926.79 1098.9,916.61 1100.1,914.6 C1101.3,912.59 1105.89,906.71 1107.3,904.9 C1108.71,903.09 1115.59,894.6 1117,892.9 C1118.41,891.2 1123.3,885.71 1124.2,884.5 C1125.1,883.29 1126.79,880.01 1127.8,878.4 C1128.81,876.79 1135.19,866.9 1136.3,865.2 C1137.41,863.5 1139.9,859.51 1141.1,858 C1142.3,856.49 1149.3,848.71 1150.7,847.1 C1152.1,845.49 1156.29,840.31 1157.9,838.7 C1159.51,837.09 1168.19,829.61 1170,827.8 C1171.81,825.99 1177.79,818.91 1179.6,817 C1181.41,815.09 1189.89,806.71 1191.7,804.9 C1193.51,803.09 1199.69,796.8 1201.3,795.3 C1202.91,793.8 1209.39,788.21 1211,786.9 C1212.61,785.59 1218.43,781.3 1220.6,779.6 C1222.77,777.9 1234.97,768.17 1237,766.5 C1239.03,764.83 1242.38,761.33 1244.9,759.5 C1247.43,757.67 1263.57,746.89 1267.3,744.6 C1271.03,742.31 1285.97,733.98 1289.7,732 C1293.43,730.02 1308.36,722.57 1312.1,720.8 C1315.84,719.02 1330.86,712.27 1334.6,710.7 C1338.34,709.13 1352.63,703.64 1357,702 C1361.37,700.36 1382.42,692.48 1387,691 C1391.58,689.52 1407.83,685.38 1412,684.25 C1416.17,683.12 1432.83,678.58 1437,677.5 C1441.17,676.42 1457.83,672.19 1462,671.25 C1466.17,670.31 1482.83,667.08 1487,666.25 C1491.17,665.42 1507.83,661.98 1512,661.25 C1516.17,660.52 1532.79,658.12 1537,657.5 C1541.21,656.88 1560.38,654.06 1562.5,653.75" stroke="#1e4ca1" stroke-width="4.2" stroke-dasharray="11.8 4.2"/>
<path d="M1023.5,1031 C1024.73,1028.33 1030.19,1016.4 1032.7,1011 C1035.21,1005.6 1039.42,996.45 1042.3,990.5 C1045.18,984.55 1051.09,972.51 1054.3,966.4 C1057.51,960.29 1063.19,949.85 1066.4,944.7 C1069.61,939.55 1075.19,932.29 1078.4,927.8 C1081.61,923.31 1087.29,915.33 1090.5,911 C1093.71,906.67 1099.29,898.99 1102.5,895.3 C1105.71,891.61 1111.39,886.13 1114.6,883.3 C1117.81,880.47 1123.39,875.97 1126.6,874.1 C1129.81,872.23 1136.13,870.07 1138.7,869.3 C1141.27,868.53 1143.98,868.3 1145.9,868.3 C1147.82,868.3 1151.17,868.85 1153.1,869.3 C1155.03,869.75 1158.15,870.17 1160.4,871.7 C1162.65,873.23 1167.76,878.45 1170,880.8 C1172.24,883.15 1175.27,886.41 1177.2,889.3 C1179.13,892.19 1182.57,898.81 1184.5,902.5 C1186.43,906.19 1189.78,912.17 1191.7,917 C1193.62,921.83 1196.98,932.59 1198.9,938.7 C1200.82,944.81 1204.17,955.73 1206.1,962.8 C1208.03,969.87 1211.79,984.95 1213.4,991.7 C1215.01,998.45 1217.15,1008.16 1218.2,1013.4 C1219.25,1018.64 1220.89,1028.65 1221.3,1031" stroke="#0f7b3a" stroke-width="4.2"/>
<path d="M976.25,692 L1562.5,969.5" stroke="#231f20" stroke-width="4.3" stroke-dasharray="4.4 3.7"/>
</g>
<rect x="976.1" y="613.25" width="586.4" height="417.95" fill="none" stroke="#787878" stroke-width="1"/>
<path d="M1122.7,1031.2 v-6.6 M1122.7,613.25 v6.6 M1269.3,1031.2 v-6.6 M1269.3,613.25 v6.6 M1415.9,1031.2 v-6.6 M1415.9,613.25 v6.6 M976.1,786.4 h6.6 M1562.5,786.4 h-6.6 M976.1,960.4 h6.6 M1562.5,960.4 h-6.6 M1562.5,752.57 h-6.6 M1562.5,891.88 h-6.6" stroke="#787878" stroke-width="1" fill="none"/>
<path d="M1020.23,1031.2 v-3.8 M1020.23,613.25 v3.8 M1046.05,1031.2 v-3.8 M1046.05,613.25 v3.8 M1064.36,1031.2 v-3.8 M1064.36,613.25 v3.8 M1078.57,1031.2 v-3.8 M1078.57,613.25 v3.8 M1090.18,1031.2 v-3.8 M1090.18,613.25 v3.8 M1099.99,1031.2 v-3.8 M1099.99,613.25 v3.8 M1108.49,1031.2 v-3.8 M1108.49,613.25 v3.8 M1115.99,1031.2 v-3.8 M1115.99,613.25 v3.8 M1166.83,1031.2 v-3.8 M1166.83,613.25 v3.8 M1192.65,1031.2 v-3.8 M1192.65,613.25 v3.8 M1210.96,1031.2 v-3.8 M1210.96,613.25 v3.8 M1225.17,1031.2 v-3.8 M1225.17,613.25 v3.8 M1236.78,1031.2 v-3.8 M1236.78,613.25 v3.8 M1246.59,1031.2 v-3.8 M1246.59,613.25 v3.8 M1255.09,1031.2 v-3.8 M1255.09,613.25 v3.8 M1262.59,1031.2 v-3.8 M1262.59,613.25 v3.8 M1313.43,1031.2 v-3.8 M1313.43,613.25 v3.8 M1339.25,1031.2 v-3.8 M1339.25,613.25 v3.8 M1357.56,1031.2 v-3.8 M1357.56,613.25 v3.8 M1371.77,1031.2 v-3.8 M1371.77,613.25 v3.8 M1383.38,1031.2 v-3.8 M1383.38,613.25 v3.8 M1393.19,1031.2 v-3.8 M1393.19,613.25 v3.8 M1401.69,1031.2 v-3.8 M1401.69,613.25 v3.8 M1409.19,1031.2 v-3.8 M1409.19,613.25 v3.8 M1460.03,1031.2 v-3.8 M1460.03,613.25 v3.8 M1485.85,1031.2 v-3.8 M1485.85,613.25 v3.8 M1504.16,1031.2 v-3.8 M1504.16,613.25 v3.8 M1518.37,1031.2 v-3.8 M1518.37,613.25 v3.8 M1529.98,1031.2 v-3.8 M1529.98,613.25 v3.8 M1539.79,1031.2 v-3.8 M1539.79,613.25 v3.8 M1548.29,1031.2 v-3.8 M1548.29,613.25 v3.8 M1555.79,1031.2 v-3.8 M1555.79,613.25 v3.8" stroke="#787878" stroke-width="0.9" fill="none" opacity="0.9"/>
<path d="M1562.5,710.63 h-3 M1562.5,686.1 h-3 M1562.5,668.69 h-3 M1562.5,655.19 h-3 M1562.5,644.16 h-3 M1562.5,634.83 h-3 M1562.5,626.75 h-3 M1562.5,619.62 h-3 M1562.5,849.94 h-3 M1562.5,825.41 h-3 M1562.5,808.01 h-3 M1562.5,794.51 h-3 M1562.5,783.47 h-3 M1562.5,774.15 h-3 M1562.5,766.07 h-3 M1562.5,758.94 h-3 M1562.5,989.26 h-3 M1562.5,964.73 h-3 M1562.5,947.32 h-3 M1562.5,933.82 h-3 M1562.5,922.79 h-3 M1562.5,913.46 h-3 M1562.5,905.38 h-3 M1562.5,898.26 h-3" stroke="#787878" stroke-width="0.9" fill="none" opacity="0.65"/>
<g fill="none">
<path d="M1415.25,757.5 H1454" stroke="#ed1c24" stroke-width="2.3"/>
<path d="M1415.25,795.5 H1454" stroke="#1e4ca1" stroke-width="4.2" stroke-dasharray="11.8 4.2"/>
<path d="M1415.25,834.25 H1454" stroke="#0f7b3a" stroke-width="4.2"/>
<path d="M1415.25,870 H1451" stroke="#231f20" stroke-width="4.3" stroke-dasharray="4.4 3.7"/>
</g>
<g font-family="'Liberation Sans', Arial, Helvetica, sans-serif" fill="#231f20" stroke="#231f20" stroke-width="0.5" stroke-linejoin="round">
<text x="973.8" y="621.65" text-anchor="end" font-size="26.6">10<tspan dx="0" dy="-15" font-size="18">40</tspan></text>
<text x="973.8" y="794.8" text-anchor="end" font-size="26.6">10<tspan dx="0" dy="-15" font-size="18">30</tspan></text>
<text x="973.8" y="968.8" text-anchor="end" font-size="26.6">10<tspan dx="0" dy="-15" font-size="18">20</tspan></text>
<text x="1565.7" y="621.45" text-anchor="start" font-size="26.6">10<tspan dx="0" dy="-15" font-size="18">1</tspan></text>
<text x="1565.7" y="760.77" text-anchor="start" font-size="26.6">10<tspan dx="0" dy="-15" font-size="18">0</tspan></text>
<text x="1565.7" y="900.08" text-anchor="start" font-size="26.6">10<tspan dx="0" dy="-15" font-size="18">-1</tspan></text>
<text x="1565.7" y="1039.4" text-anchor="start" font-size="26.6">10<tspan dx="0" dy="-15" font-size="18">-2</tspan></text>
<text x="976.1" y="1066.1" text-anchor="middle" font-size="26.6">10<tspan dx="0" dy="-15.6" font-size="18">-2</tspan></text>
<text x="1122.7" y="1066.1" text-anchor="middle" font-size="26.6">10<tspan dx="0" dy="-15.6" font-size="18">-1</tspan></text>
<text x="1269.3" y="1066.1" text-anchor="middle" font-size="26.6">10<tspan dx="0" dy="-15.6" font-size="18">0</tspan></text>
<text x="1415.9" y="1066.1" text-anchor="middle" font-size="26.6">10<tspan dx="0" dy="-15.6" font-size="18">1</tspan></text>
<text x="1562.5" y="1066.1" text-anchor="middle" font-size="26.6">10<tspan dx="0" dy="-15.6" font-size="18">2</tspan></text>
<text x="1266.8" y="1108.5" text-anchor="middle" font-size="33.6"><tspan letter-spacing="-0.5">Intensity [10</tspan><tspan dx="1.3" dy="-16.4" font-size="26.3">13</tspan><tspan dx="-0.5" dy="16.4"> W cm</tspan><tspan dx="-1.9" dy="-16.4" font-size="26.3">-2</tspan><tspan dx="1" dy="16.4">]</tspan></text>
<text transform="translate(910,823.4) rotate(-90)" text-anchor="middle" font-size="33.6"><tspan letter-spacing="-0.22">Ionisation Rate </tspan>[sec<tspan dx="-11.2" dy="-16.4" font-size="26.3">-1</tspan><tspan dx="2.4" dy="16.4"> cm</tspan><tspan dx="-2.3" dy="-16.4" font-size="26.3">-3</tspan><tspan dy="16.4">]</tspan></text>
<text transform="translate(1641,823) rotate(-90)" text-anchor="middle" font-size="33.6"><tspan letter-spacing="0.3">Keldysh</tspan> <tspan letter-spacing="-0.55">Parameter</tspan> <tspan font-family="'DejaVu Serif', 'Liberation Serif', serif" font-size="31.6" stroke-width="0">γ</tspan></text>
<text x="1458.25" y="761.1" font-size="23.4">W<tspan dy="10.5" font-size="18.8">TI</tspan></text>
<text x="1458.25" y="799.1" font-size="23.4">W<tspan dy="10.5" font-size="18.8">PI</tspan></text>
<text x="1458.25" y="837.85" font-size="23.4">W<tspan dy="10.5" font-size="18.8">MPI</tspan></text>
<text x="1457.25" y="879.3" font-size="22.4" font-family="'DejaVu Serif', 'Liberation Serif', serif" stroke-width="0">γ</text>
<text x="1326.5" y="650" fill="#ed1c24" stroke="#ed1c24" font-size="24.1" letter-spacing="-0.3">λ<tspan dx="0.5" dy="10.2" font-size="19.3">L</tspan><tspan dx="1" dy="-10.2">=4 µm</tspan></text>
<text x="1488" y="1012.5" font-size="55.5" font-family="'Liberation Serif', 'Times New Roman', Times, serif" stroke-width="0.3">(d)</text>
</g>
</g>
</svg>
</body>
</html>
